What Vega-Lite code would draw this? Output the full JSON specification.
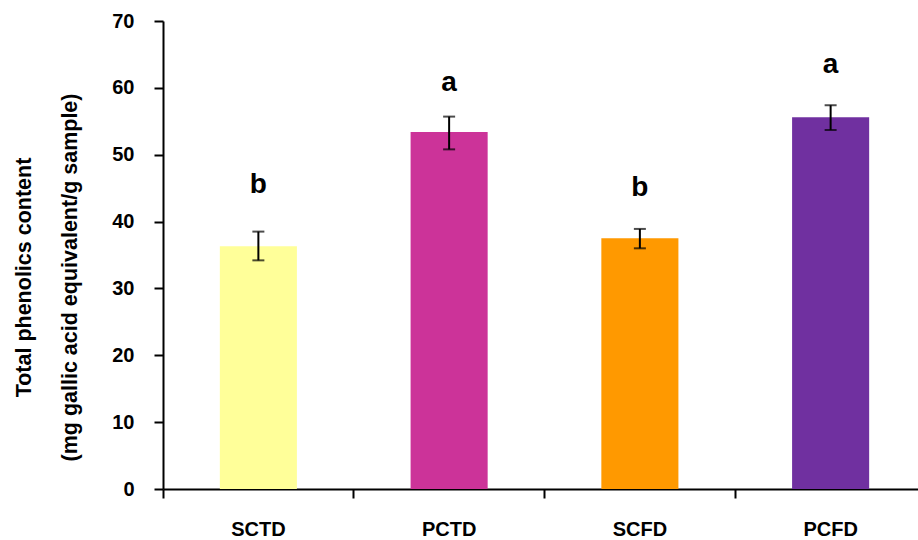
{
  "$schema": "https://vega.github.io/schema/vega-lite/v6.json",
  "autosize": "none",
  "width": 755,
  "height": 468,
  "padding": {"left": 163, "top": 21, "right": 0, "bottom": 51},
  "background": "white",
  "data": {
    "values": [
      {"sample": "SCTD", "tpc": 36.3, "lo": 34.2, "hi": 38.5, "sig": "b", "sigPos": 44.3},
      {"sample": "PCTD", "tpc": 53.4, "lo": 50.8, "hi": 55.7, "sig": "a", "sigPos": 59.6},
      {"sample": "SCFD", "tpc": 37.5, "lo": 36.0, "hi": 38.9, "sig": "b", "sigPos": 43.8},
      {"sample": "PCFD", "tpc": 55.6, "lo": 53.7, "hi": 57.4, "sig": "a", "sigPos": 62.2}
    ]
  },
  "config": {
    "view": {"stroke": null},
    "font": "Liberation Sans"
  },
  "encoding": {
    "x": {
      "field": "sample",
      "type": "nominal",
      "sort": ["SCTD", "PCTD", "SCFD", "PCFD"],
      "scale": {"paddingInner": 0.596, "paddingOuter": 0.298, "range": [0, 763]},
      "axis": {
        "title": null,
        "labelAngle": 0,
        "bandPosition": -0.7375,
        "tickSize": 9,
        "labelPadding": 21,
        "labelFont": "Liberation Sans",
        "labelFontWeight": "bold",
        "labelFontSize": 20,
        "labelColor": "black",
        "domainColor": "black",
        "tickColor": "black",
        "domainWidth": 2,
        "tickWidth": 2,
        "grid": false
      }
    }
  },
  "layer": [
    {
      "mark": {"type": "bar"},
      "encoding": {
        "y": {
          "field": "tpc",
          "type": "quantitative",
          "scale": {"domain": [0, 70]},
          "axis": {
            "title": ["Total phenolics content", "(mg gallic acid equivalent/g sample)"],
            "titleFont": "Liberation Sans",
            "titleFontWeight": "bold",
            "titleFontSize": 21.5,
            "titleColor": "black",
            "titleLineHeight": 46,
            "titlePadding": 30,
            "titleY": 256,
            "values": [0, 10, 20, 30, 40, 50, 60, 70],
            "labelOverlap": false,
            "labelFlush": false,
            "tickSize": 9,
            "labelPadding": 20,
            "labelFont": "Liberation Sans",
            "labelFontWeight": "bold",
            "labelFontSize": 20,
            "labelColor": "black",
            "domainColor": "black",
            "tickColor": "black",
            "domainWidth": 2,
            "tickWidth": 2,
            "grid": false
          }
        },
        "color": {
          "field": "sample",
          "type": "nominal",
          "scale": {
            "domain": ["SCTD", "PCTD", "SCFD", "PCFD"],
            "range": ["#FFFF99", "#CC3399", "#FF9900", "#7030A0"]
          },
          "legend": null
        }
      }
    },
    {
      "mark": {"type": "rule", "color": "black", "strokeWidth": 2},
      "encoding": {
        "y": {"field": "lo", "type": "quantitative"},
        "y2": {"field": "hi"}
      }
    },
    {
      "mark": {"type": "tick", "color": "black", "size": 12, "thickness": 2, "orient": "horizontal"},
      "encoding": {"y": {"field": "lo", "type": "quantitative"}}
    },
    {
      "mark": {"type": "tick", "color": "black", "size": 12, "thickness": 2, "orient": "horizontal"},
      "encoding": {"y": {"field": "hi", "type": "quantitative"}}
    },
    {
      "mark": {"type": "text", "fontSize": 28, "fontWeight": "bold", "baseline": "alphabetic", "color": "black"},
      "encoding": {
        "y": {"field": "sigPos", "type": "quantitative"},
        "text": {"field": "sig"}
      }
    }
  ]
}
